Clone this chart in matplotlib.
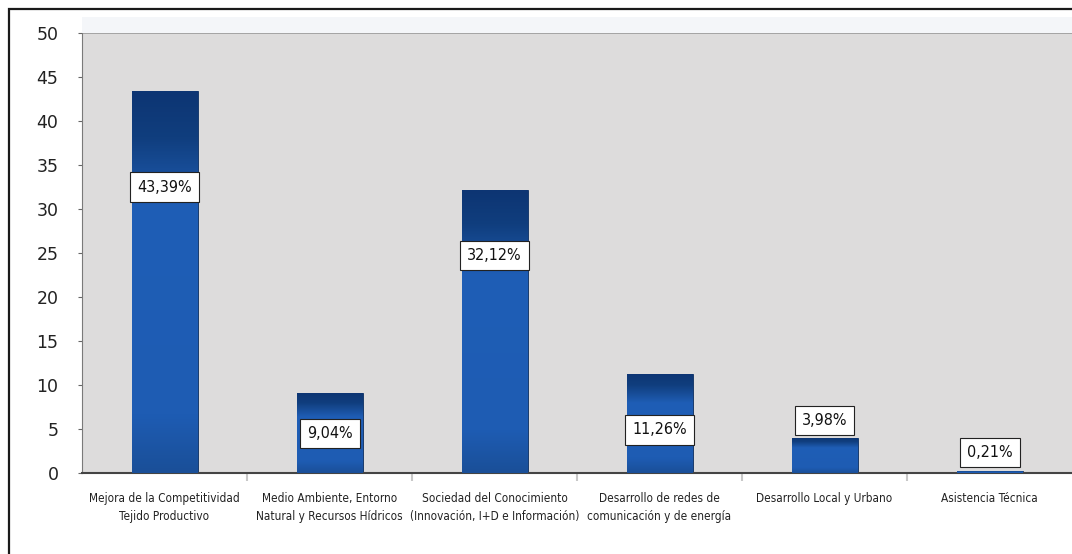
import numpy as np
import matplotlib.pyplot as plt
from matplotlib import font_manager
from matplotlib.patches import Rectangle
from matplotlib.colors import LinearSegmentedColormap

# look for a narrow / condensed face, the original uses a condensed sans
narrow = None
for f in font_manager.fontManager.ttflist:
    if 'Narrow' in f.name or 'Condensed' in f.name or f.stretch in ('condensed', 'semi-condensed'):
        narrow = f
        break
if narrow is not None:
    plt.rcParams['font.family'] = [narrow.name, 'DejaVu Sans']
    font_stretch = narrow.stretch
else:
    plt.rcParams['font.family'] = ['DejaVu Sans']
    font_stretch = 'condensed'
plt.rcParams['font.stretch'] = font_stretch

# Data
categories = [
    'Mejora de la Competitividad\nTejido Productivo',
    'Medio Ambiente, Entorno\nNatural y Recursos Hídricos',
    'Sociedad del Conocimiento\n(Innovación, I+D e Información)',
    'Desarrollo de redes de\ncomunicación y de energía',
    'Desarrollo Local y Urbano',
    'Asistencia Técnica',
]
values = [43.39, 9.04, 32.12, 11.26, 3.98, 0.21]
labels = ['43,39%', '9,04%', '32,12%', '11,26%', '3,98%', '0,21%']
label_y = [32.5, 4.5, 24.7, 4.9, 6.0, 2.3]
yticks = [0, 5, 10, 15, 20, 25, 30, 35, 40, 45, 50]

fig = plt.figure(figsize=(10.72, 5.54), dpi=100)
fig.patch.set_facecolor('white')

# outer frame (runs off right and bottom edges)
fig.add_artist(Rectangle((9 / 1072, -0.05), 1.1, (554 - 9) / 554 + 0.05,
                         transform=fig.transFigure, fill=False,
                         edgecolor='#1a1a1a', linewidth=1.6))
# pale band above the plot area
fig.add_artist(Rectangle((82 / 1072, (554 - 33) / 554), 1.0, 16 / 554,
                         transform=fig.transFigure, facecolor='#f4f6f9',
                         edgecolor='none'))

ax = fig.add_axes([82 / 1072, 81 / 554, (1072 - 82) / 1072, 440 / 554])
ax.set_facecolor('#dddcdc')

x = np.arange(len(values))
bars = ax.bar(x, values, width=0.4, color='#1a55a8', edgecolor='none', zorder=2)

# vertical gradient inside each bar: dark cap on top, bright blue body
cmap = LinearSegmentedColormap.from_list(
    'bar', [(0.0, '#1a4f98'), (0.15, '#1e5cb3'), (0.7, '#1f5eb6'),
            (0.8, '#174c96'), (0.88, '#103e7e'), (1.0, '#0d3573')])
grad = np.linspace(0, 1, 256).reshape(-1, 1)
for b in bars:
    x0, w, h = b.get_x(), b.get_width(), b.get_height()
    if h <= 0:
        continue
    im = ax.imshow(grad, cmap=cmap, origin='lower', aspect='auto',
                   extent=(x0, x0 + w, 0, h), zorder=3)
    im.set_clip_path(b)
    b.set_edgecolor('#0b2d5e')
    b.set_linewidth(0.6)

for xi, lab, ly in zip(x, labels, label_y):
    ax.text(xi, ly, lab, ha='center', va='center', fontsize=11.5, color='#111111',
            zorder=5,
            bbox=dict(boxstyle='square,pad=0.45', facecolor='white',
                      edgecolor='#222222', linewidth=0.8))

ax.set_xlim(-0.5, len(values) - 0.5)
ax.set_ylim(0, 50)
ax.set_yticks(yticks)
ax.set_yticklabels([str(t) for t in yticks], fontsize=12.5, color='#222222',
                   fontstretch='normal')
ax.tick_params(axis='y', length=3, color='#666666', pad=14)

ax.set_xticks(x)
ax.set_xticklabels(categories, fontsize=8.5, color='#222222', linespacing=1.45)
ax.tick_params(axis='x', length=0, pad=14)
ax.set_xticks(x[:-1] + 0.5, minor=True)
ax.tick_params(axis='x', which='minor', length=6, color='#c8c8c8', width=1.5)

for s in ['top', 'right']:
    ax.spines[s].set_visible(False)
ax.spines['left'].set_color('#7a7a7a')
ax.spines['bottom'].set_color('#444444')
ax.spines['bottom'].set_linewidth(1.5)
ax.axhline(50, color='#9a9a9a', linewidth=1.2, zorder=1)

plt.savefig('out.png', dpi=100)
plt.close()
